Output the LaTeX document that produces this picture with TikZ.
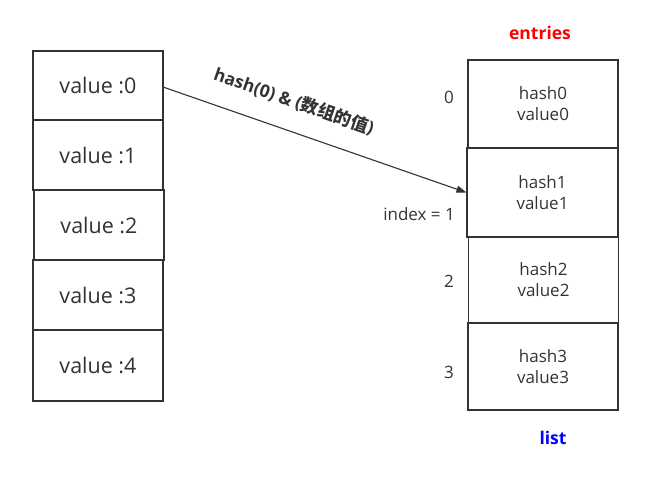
\documentclass[tikz,border=0pt]{standalone}
\usepackage{fontspec}
\setmainfont{Open Sans}
\newfontfamily\cjk{Noto Sans CJK SC}
\usetikzlibrary{arrows.meta}
\definecolor{ink}{HTML}{333333}
\tikzset{
  cell/.style={draw=ink, line width=1.2pt, text=ink, minimum width=130pt, inner sep=0pt, font=\fontsize{21.5}{25}\selectfont},
  entry/.style={draw=ink, line width=1.2pt, text=ink, minimum width=150pt, inner sep=0pt, align=center, font=\fontsize{17}{21}\selectfont},
  idx/.style={text=ink, inner sep=0pt, font=\fontsize{17}{20}\selectfont},
  conn/.style={draw=ink, line width=1.1pt, -{Triangle[length=10pt,width=7pt]}}
}
\begin{document}
\begin{tikzpicture}[x=1pt,y=-1pt]
\useasboundingbox (0,0) rectangle (661,482);
\node[cell, minimum height=69pt] (v0) at (98,85.5) {value :0};
\node[cell, minimum height=70pt] (v1) at (98,155) {value :1};
\node[cell, minimum height=70pt] (v2) at (99,225) {value :2};
\node[cell, minimum height=70pt] (v3) at (98,295) {value :3};
\node[cell, minimum height=71pt] (v4) at (98,365.5) {value :4};
\node[entry, minimum height=88pt] (e0) at (543,104) {hash0\\value0};
\node[entry, minimum height=89pt, minimum width=151pt] (e1) at (542.5,192.5) {hash1\\value1};
\node[entry, minimum height=86pt] (e2) at (543.5,280) {hash2\\value2};
\node[entry, minimum height=87pt] (e3) at (543,366.5) {hash3\\value3};
\node[idx] (i0) at (449,97) {0};
\node[idx, anchor=east] (i1) at (455,214) {index = 1};
\node[idx] (i2) at (449,281) {2};
\node[idx] (i3) at (449,372) {3};
\node[text=red, font=\bfseries\fontsize{17.5}{20}\selectfont] (t1) at (540,33) {entries};
\node[text=blue, font=\bfseries\fontsize{17.5}{20}\selectfont] (t2) at (553,438) {list};
\coordinate (a) at (163,87);
\draw[conn] (a) -- (e1.west) node[pos=0.40, sloped, above=20pt, text=ink, font=\bfseries\fontsize{17.5}{20}\selectfont, inner sep=0pt] (lbl) {hash(0) \& ({\cjk 数组的值})};
\end{tikzpicture}
\end{document}
